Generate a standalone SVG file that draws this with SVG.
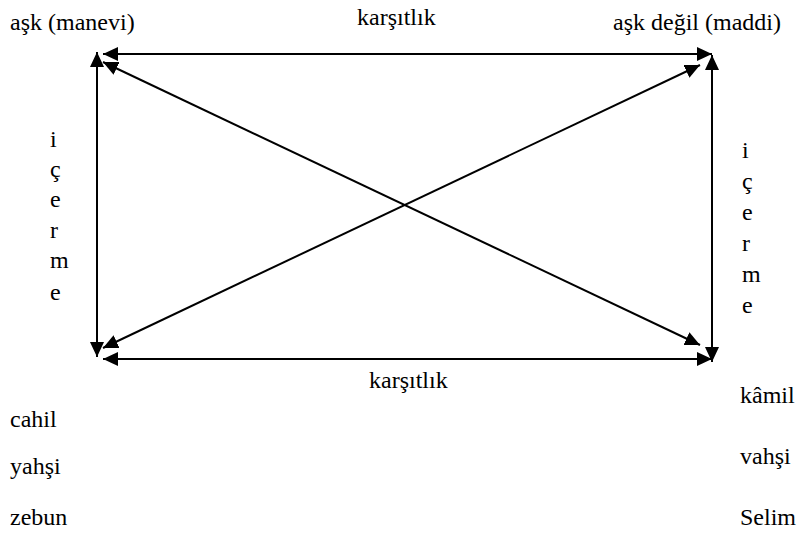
<svg xmlns="http://www.w3.org/2000/svg" width="798" height="533" viewBox="0 0 798 533">
<defs>
<marker id="ah" markerUnits="userSpaceOnUse" markerWidth="16" markerHeight="14" refX="15" refY="7" orient="auto-start-reverse" viewBox="0 0 16 14">
<path d="M0,0 L15,7 L0,14 z" fill="#000"/>
</marker>
</defs>
<rect width="798" height="533" fill="#fff"/>
<g id="connectors" stroke="#000" stroke-width="2" fill="none" marker-start="url(#ah)" marker-end="url(#ah)">
<line x1="103" y1="54" x2="712" y2="54"/>
<line x1="103" y1="359" x2="712" y2="359"/>
<line x1="97" y1="52" x2="97" y2="357"/>
<line x1="712" y1="55" x2="712" y2="362"/>
<line x1="103" y1="62" x2="700" y2="345"/>
<line x1="103" y1="348" x2="700" y2="65"/>
</g>
<g font-family="Liberation Serif, serif" font-size="24" fill="#000">
<g id="node-ask-manevi"><text x="10" y="30">aşk (manevi)</text></g>
<g id="node-ask-degil"><text x="613" y="30">aşk değil (maddi)</text></g>
<g id="label-top"><text x="357" y="25">karşıtlık</text></g>
<g id="label-bottom"><text x="369" y="388">karşıtlık</text></g>
<g id="label-left">
<text x="50" y="147">i</text>
<text x="50" y="177">ç</text>
<text x="50" y="207">e</text>
<text x="50" y="238">r</text>
<text x="50" y="268">m</text>
<text x="50" y="300">e</text>
</g>
<g id="label-right">
<text x="742" y="158">i</text>
<text x="742" y="189">ç</text>
<text x="742" y="220">e</text>
<text x="742" y="251">r</text>
<text x="742" y="282">m</text>
<text x="742" y="313">e</text>
</g>
<g id="node-left-list">
<text x="10" y="427">cahil</text>
<text x="10" y="474">yahşi</text>
<text x="10" y="525">zebun</text>
</g>
<g id="node-right-list">
<text x="740" y="403">kâmil</text>
<text x="740" y="464">vahşi</text>
<text x="740" y="525">Selim</text>
</g>
</g>
</svg>
